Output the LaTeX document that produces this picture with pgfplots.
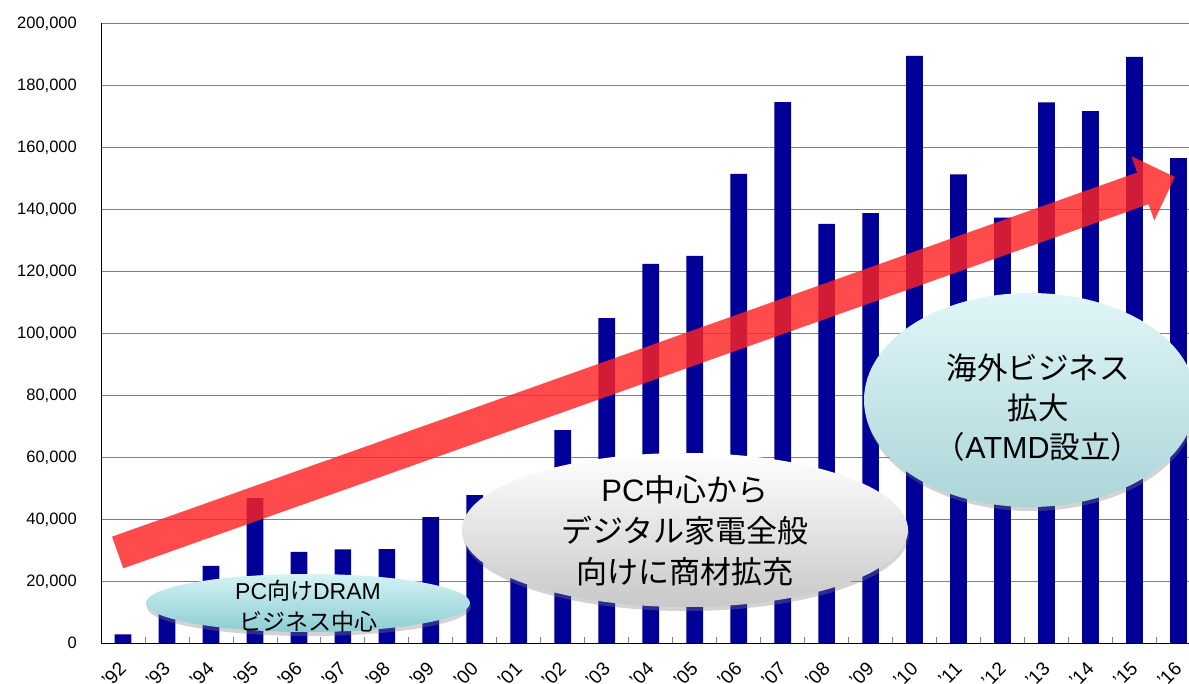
\documentclass[border=0pt]{standalone}
\usepackage{fontspec}
\setmainfont{Liberation Sans}
\newfontfamily\jp{Noto Sans CJK JP}
\newfontfamily\lat{Liberation Sans}
\usepackage{pgfplots}
\pgfplotsset{compat=1.18}
\usetikzlibrary{shadows}
\definecolor{barblue}{RGB}{0,0,153}
\definecolor{gridgray}{RGB}{128,128,128}
\definecolor{arrowred}{RGB}{255,35,35}
\begin{document}
\begin{tikzpicture}[x=1pt,y=1pt]
\begin{axis}[
  at={(101pt,-643.3pt)}, anchor=south west,
  scale only axis, width=1088pt, height=620pt,
  xmin=-0.5, xmax=24.24, ymin=0, ymax=200000,
  axis x line*=bottom, axis y line*=left,
  axis line style={black, line width=1pt},
  ytick={0,20000,...,200000}, scaled y ticks=false,
  /pgf/number format/fixed, /pgf/number format/1000 sep={,},
  /pgf/number format/assume math mode=true,
  ymajorgrids, major grid style={gridgray, line width=1pt},
  major tick length=0pt,
  xtick={0,...,24},
  xticklabels={'92,'93,'94,'95,'96,'97,'98,'99,'00,'01,'02,'03,'04,'05,'06,'07,'08,'09,'10,'11,'12,'13,'14,'15,'16},
  minor xtick={0.5,1.5,...,23.5}, minor tick length=6pt,
  minor tick style={gridgray, line width=0.8pt},
  yticklabel style={font=\fontsize{16.5}{19}\selectfont, inner sep=0pt, xshift=-24pt},
  xticklabel style={font=\fontsize{19}{22}\selectfont, rotate=45, anchor=east, inner sep=0pt},
  xticklabel shift=22pt,
  clip=false,
]
\addplot[ybar, bar width=0.38, bar shift=0pt, fill=barblue, draw=none] coordinates {
(0,2900) (1,12000) (2,25000) (3,46800) (4,29500) (5,30300) (6,30400) (7,40700)
(8,47800) (9,28000) (10,68800) (11,104900) (12,122400) (13,125000) (14,151400)
(15,174600) (16,135300) (17,138800) (18,189500) (19,151300) (20,137300)
(21,174500) (22,171700) (23,189200) (24,156500)};
\end{axis}
% arrow
\fill[arrowred, opacity=0.82] (112.03,-536.67) -- (1137.2,-172.5) -- (1131.4,-156.2) -- (1174.9,-177) -- (1154.3,-220.5) -- (1148.5,-204.2) -- (123.27,-568.33) -- cycle;
% ellipses
\shade[top color={rgb,255:red,212;green,243;blue,245}, bottom color={rgb,255:red,140;green,205;blue,210},
  drop shadow={opacity=0.35, shadow xshift=1pt, shadow yshift=-4pt}] (308,-603) ellipse (162 and 29);
\node[font=\jp\fontsize{23}{31}\selectfont, align=center] at (308,-606) {{\lat PC}向け{\lat DRAM}\\ビジネス中心};
\shade[top color=white, bottom color={rgb,255:red,200;green,200;blue,200},
  drop shadow={opacity=0.35, shadow xshift=1pt, shadow yshift=-4pt}] (685,-530) ellipse (223 and 77);
\node[font=\jp\fontsize{31}{41}\selectfont, align=center] at (685,-531) {{\lat PC}中心から\\デジタル家電全般\\向けに商材拡充};
\shade[top color={rgb,255:red,224;green,246;blue,248}, bottom color={rgb,255:red,172;green,213;blue,216},
  drop shadow={opacity=0.35, shadow xshift=1pt, shadow yshift=-4pt}] (1030,-400) ellipse (166 and 107);
\node[font=\jp\fontsize{30.5}{39.5}\selectfont, align=center] at (1038,-408) {海外ビジネス\\拡大\\（{\lat ATMD}設立）};
\pgfresetboundingbox
\path (0,0) rectangle (1189,-684);
\end{tikzpicture}
\end{document}
